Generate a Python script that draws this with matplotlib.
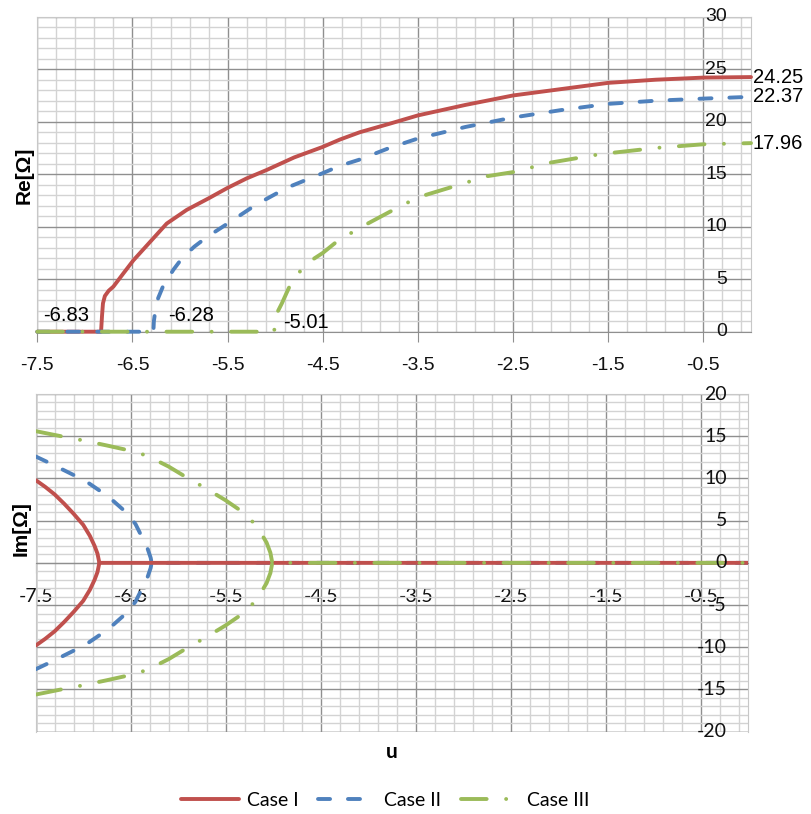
import numpy as np
import matplotlib
matplotlib.use("Agg")
import matplotlib.pyplot as plt
from matplotlib.lines import Line2D

# ---- data ----
cases = ["Case I", "Case II", "Case III"]
colors = ["#C0504D", "#4F81BD", "#9BBB59"]
branch_u = [-6.83, -6.28, -5.01]
end_re = [24.25, 22.37, 17.96]

# Re[Omega] vs u
re1_u = [-7.5, -6.83, -6.82, -6.81, -6.79, -6.75, -6.70, -6.6, -6.49, -6.3,
         -6.14, -5.93, -5.7, -5.5, -5.3, -5.09, -4.8, -4.5, -4.32, -4.11,
         -3.8, -3.5, -3.0, -2.5, -2.0, -1.5, -1.0, -0.5, 0.0]
re1_v = [0.0, 0.0, 1.5, 2.7, 3.4, 3.9, 4.3, 5.5, 6.8, 8.7,
         10.3, 11.6, 12.7, 13.7, 14.6, 15.4, 16.6, 17.6, 18.3, 19.0,
         19.8, 20.6, 21.6, 22.5, 23.1, 23.7, 24.0, 24.2, 24.25]
re2_u = [-7.5, -6.28, -6.275, -6.26, -6.23, -6.18, -6.07, -5.97, -5.85, -5.72,
         -5.5, -5.20, -4.88, -4.5, -4.32, -4.11, -3.8, -3.5, -3.0, -2.5,
         -2.0, -1.5, -1.0, -0.5, 0.0]
re2_v = [0.0, 0.0, 1.0, 2.0, 3.2, 4.3, 5.9, 7.1, 8.1, 9.0,
         10.3, 12.1, 13.7, 15.1, 15.8, 16.4, 17.5, 18.4, 19.5, 20.4,
         21.1, 21.7, 22.0, 22.2, 22.37]
re3_u = [-7.5, -5.01, -5.005, -4.98, -4.93, -4.85, -4.77, -4.67, -4.5, -4.35,
         -4.11, -3.8, -3.5, -3.1, -2.78, -2.5, -2.11, -1.59, -1.0, -0.5, 0.0]
re3_v = [0.0, 0.0, 1.0, 1.8, 2.7, 4.3, 5.4, 6.5, 7.5, 8.6,
         9.9, 11.4, 12.8, 13.9, 14.8, 15.2, 16.1, 16.9, 17.5, 17.85, 17.96]

# Im[Omega] vs u (upper branch; lower branch is its mirror)
im1_u = [-7.5, -7.4, -7.3, -7.2, -7.1, -7.0, -6.93, -6.88, -6.85, -6.83, 0.0]
im1_v = [9.8, 9.0, 8.1, 7.0, 5.8, 4.5, 3.2, 2.0, 1.1, 0.0, 0.0]
im2_u = [-7.5, -7.35, -7.1, -6.95, -6.82, -6.68, -6.54, -6.45, -6.37, -6.32,
         -6.29, -6.28, 0.0]
im2_v = [12.6, 11.8, 10.4, 9.5, 8.5, 7.3, 5.9, 4.6, 2.8, 1.6,
         0.6, 0.0, 0.0]
im3_u = [-7.5, -7.19, -7.0, -6.75, -6.51, -6.33, -6.1, -5.88, -5.72, -5.5,
         -5.28, -5.16, -5.07, -5.03, -5.01, 0.0]
im3_v = [15.6, 14.9, 14.5, 13.9, 13.3, 12.7, 11.4, 9.9, 8.9, 7.4,
         5.7, 4.1, 2.4, 1.2, 0.0, 0.0]

x_major = np.arange(-7.5, -0.4, 1.0)
x_minor = np.arange(-7.5, 0.0, 0.2)
re_ticks = np.arange(0, 31, 5)
im_ticks = np.arange(-20, 21, 5)

LW = 2.8
styles = [
    dict(linestyle="-", solid_capstyle="round", solid_joinstyle="round"),
    dict(dashes=(3.1, 4.6), dash_capstyle="round"),
    dict(dashes=(6.6, 5.0, 0.01, 5.0), dash_capstyle="round"),
]

fig = plt.figure(figsize=(8.11, 8.14), dpi=100)
W, H = 811, 814


def px_axes(l, t, r, b):
    return fig.add_axes([l / W, 1 - b / H, (r - l) / W, (b - t) / H])


def style_axes(ax, yticks, ylim, label_font, label_size, lab_x, pad):
    ax.set_xlim(-7.5, 0)
    ax.set_ylim(*ylim)
    ax.set_xticks(x_major)
    ax.set_xticks(x_minor, minor=True)
    ax.set_xticklabels([f"{v:.1f}" for v in x_major])
    ax.tick_params(axis="x", which="major", direction="out", length=7,
                   color="#8F8F8F", pad=pad, labelsize=label_size,
                   labelcolor="#111111", labelfontfamily=label_font)
    ax.set_yticks(yticks)
    ax.set_yticks(np.arange(ylim[0], ylim[1] + 1, 1), minor=True)
    ax.tick_params(axis="y", which="both", length=0, labelleft=False)
    ax.tick_params(axis="x", which="minor", length=0)
    ax.grid(which="minor", color="#D3D3D3", lw=1.0, zorder=0)
    ax.grid(which="major", color="#8F8F8F", lw=1.0, zorder=0)
    ax.set_axisbelow(True)
    for s in ["top", "right", "left"]:
        ax.spines[s].set_color("#C8C8C8")
    ax.spines["bottom"].set_color("#8F8F8F")
    for v in yticks:
        ax.text(lab_x, v, f"{v:g}", transform=ax.get_yaxis_transform(),
                ha="right", va="center", fontsize=label_size,
                family=label_font, color="#111111", zorder=5)


# ---- top: Re ----
ax1 = px_axes(37.3, 16.7, 751, 331.7)
style_axes(ax1, re_ticks, (0, 30), "Liberation Sans", 14, (727 - 37.3) / 713.7, 11)
for u, v, c, st in zip([re1_u, re2_u, re3_u], [re1_v, re2_v, re3_v], colors, styles):
    ax1.plot(u, v, color=c, lw=LW, clip_on=False, zorder=3, **st)

lab_pos = [(-7.44, 1.5), (-6.125, 1.5), (-4.92, 0.9)]
for (x, y), b in zip(lab_pos, branch_u):
    ax1.text(x, y, f"{b:.2f}", ha="left", va="center", fontsize=14.5,
             family="Liberation Sans", zorder=6)
for v in end_re:
    ax1.text(0.02, v, f"{v:.2f}", ha="left", va="center", fontsize=14.5,
             family="Liberation Sans", clip_on=False)

# ---- bottom: Im ----
ax2 = px_axes(35.7, 394, 748.3, 731.7)
ax2.spines["bottom"].set_position(("data", 0))
style_axes(ax2, im_ticks, (-20, 20), "Lato", 14, (727 - 35.7) / 712.6, 11)
ax2.plot([-7.5, -7.5], [-20, 20], color="#8F8F8F", lw=1.0, zorder=0)
ax2.plot([-7.5, 0], [-20, -20], color="#8F8F8F", lw=1.0, zorder=0)
for i in [1, 0, 2]:
    u = [im1_u, im2_u, im3_u][i]
    v = np.array([im1_v, im2_v, im3_v][i])
    ax2.plot(u, v, color=colors[i], lw=LW, zorder=3, **styles[i])
    k = len(u) - 1
    ax2.plot(u[:k], -v[:k], color=colors[i], lw=LW, zorder=3, **styles[i])

# ---- axis titles ----
fig.text(24 / W, 1 - 175 / H, "Re[Ω]", rotation=90, ha="center", va="center",
         fontsize=15, fontweight="bold", family="Liberation Sans")
fig.text(21 / W, 1 - 529 / H, "Im[Ω]", rotation=90, ha="center", va="center",
         fontsize=15, fontweight="bold", family="Liberation Sans")
fig.text(392 / W, 1 - 752 / H, "u", ha="center", va="center",
         fontsize=15, fontweight="bold", family="Lato")

# ---- legend ----
handles = [Line2D([], [], color=c, lw=LW, **st) for c, st in zip(colors, styles)]
fig.legend(handles, cases, loc="center", bbox_to_anchor=(0.475, 1 - 800 / H),
           ncol=3, frameon=False, prop={"family": "Lato", "size": 14},
           handlelength=3.0, handletextpad=0.4, columnspacing=1.0)

fig.savefig("out.png", dpi=100)
